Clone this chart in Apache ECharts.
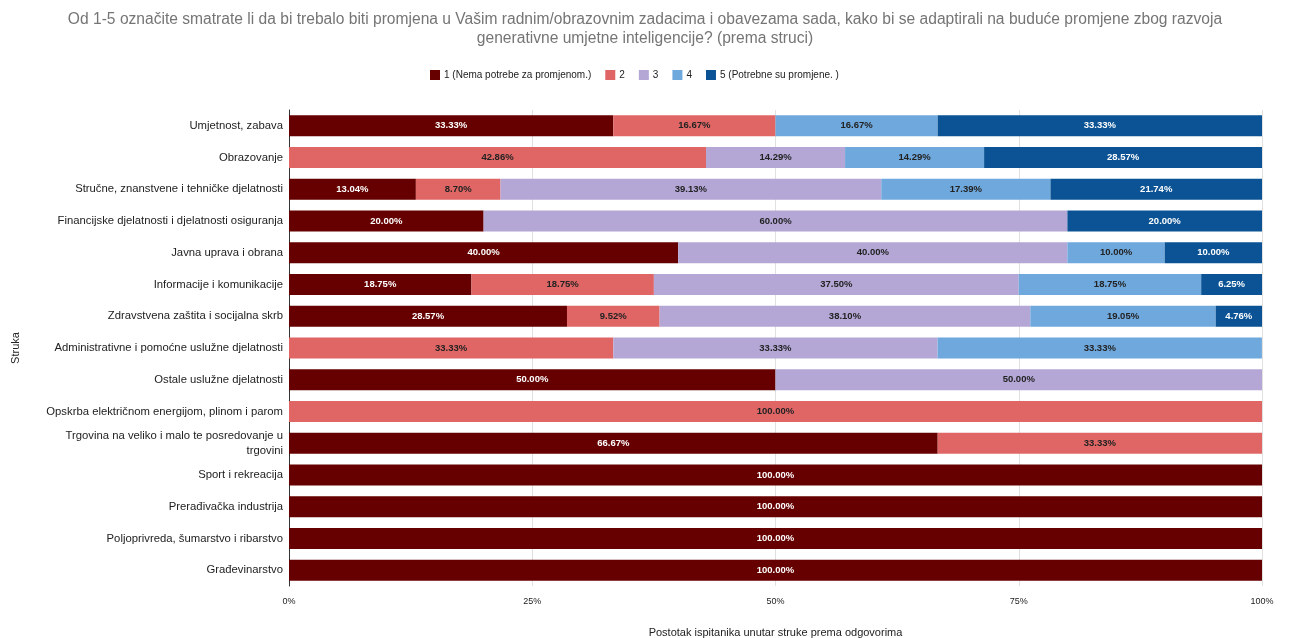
<!DOCTYPE html>
<html><head><meta charset="utf-8">
<script src="https://cdn.jsdelivr.net/npm/echarts@6/dist/echarts.min.js"></script>
<style>html,body{margin:0;padding:0;background:#fff}#c{width:1289px;height:638px}</style>
</head><body><div id="c"></div>
<script>
const categories = [
  "Umjetnost, zabava",
  "Obrazovanje",
  "Stručne, znanstvene i tehničke djelatnosti",
  "Financijske djelatnosti i djelatnosti osiguranja",
  "Javna uprava i obrana",
  "Informacije i komunikacije",
  "Zdravstvena zaštita i socijalna skrb",
  "Administrativne i pomoćne uslužne djelatnosti",
  "Ostale uslužne djelatnosti",
  "Opskrba električnom energijom, plinom i parom",
  "Trgovina na veliko i malo te posredovanje u\ntrgovini",
  "Sport i rekreacija",
  "Prerađivačka industrija",
  "Poljoprivreda, šumarstvo i ribarstvo",
  "Građevinarstvo"
];
const seriesNames = ["1 (Nema potrebe za promjenom.)", "2", "3", "4", "5 (Potrebne su promjene. )"];
const s1 = [33.33, null, 13.04, 20.00, 40.00, 18.75, 28.57, null, 50.00, null, 66.67, 100, 100, 100, 100];
const s2 = [16.67, 42.86, 8.70, null, null, 18.75, 9.52, 33.33, null, 100, 33.33, null, null, null, null];
const s3 = [null, 14.29, 39.13, 60.00, 40.00, 37.50, 38.10, 33.33, 50.00, null, null, null, null, null, null];
const s4 = [16.67, 14.29, 17.39, null, 10.00, 18.75, 19.05, 33.33, null, null, null, null, null, null, null];
const s5 = [33.33, 28.57, 21.74, 20.00, 10.00, 6.25, 4.76, null, null, null, null, null, null, null, null];
const xTicks = ["0%", "25%", "50%", "75%", "100%"];

const colors = ["#660000", "#e06666", "#b4a7d6", "#6fa8dc", "#0b5394"];
const labelColors = ["#ffffff", "#222222", "#222222", "#222222", "#ffffff"];
const allData = [s1, s2, s3, s4, s5];
const font = "Arial, 'Liberation Sans', sans-serif";

const chart = echarts.init(document.getElementById('c'));
chart.setOption({
  animation: false,
  textStyle: { fontFamily: font },
  title: {
    text: "Od 1-5 označite smatrate li da bi trebalo biti promjena u Vašim radnim/obrazovnim zadacima i obavezama sada, kako bi se adaptirali na buduće promjene zbog razvoja\ngenerativne umjetne inteligencije? (prema struci)",
    left: 640, top: 5,
    textAlign: 'center',
    textStyle: { color: '#757575', fontSize: 15.6, fontWeight: 'normal', lineHeight: 19, fontFamily: font }
  },
  legend: {
    top: 65, left: 425,
    itemWidth: 10, itemHeight: 10, itemGap: 14,
    icon: 'rect',
    textStyle: { fontSize: 10, color: '#222', fontFamily: font, padding: [0, 0, 0, -1] },
    data: seriesNames
  },
  grid: { left: 289, right: 27, top: 110, bottom: 52, containLabel: false, outerBoundsMode: 'none' },
  xAxis: {
    type: 'value', min: 0, max: 100, interval: 25,
    name: "Postotak ispitanika unutar struke prema odgovorima",
    nameLocation: 'middle', nameGap: 41,
    nameTextStyle: { fontSize: 11, color: '#222', fontFamily: font },
    axisLabel: { formatter: v => xTicks[v / 25], fontSize: 9, color: '#222', margin: 11 },
    splitLine: { show: true, lineStyle: { color: '#e0e0e0' } },
    axisLine: { show: false }, axisTick: { show: false }
  },
  yAxis: {
    type: 'category', data: categories, inverse: true,
    name: "Struka", nameLocation: 'middle', nameGap: 268, nameRotate: 90,
    nameTextStyle: { fontSize: 11, color: '#222', fontFamily: font },
    axisLabel: { fontSize: 11.3, color: '#222', margin: 6, lineHeight: 15 },
    axisLine: { show: true, lineStyle: { color: '#333' } },
    axisTick: { show: false }
  },
  series: allData.map((d, i) => ({
    name: seriesNames[i], type: 'bar', stack: 'total', data: d,
    barWidth: 21,
    itemStyle: { color: colors[i] },
    label: {
      show: true, position: 'inside',
      formatter: p => p.value == null ? '' : p.value.toFixed(2) + '%',
      color: labelColors[i], fontSize: 9.5, fontWeight: 'bold', fontFamily: font
    }
  }))
});
</script></body></html>
